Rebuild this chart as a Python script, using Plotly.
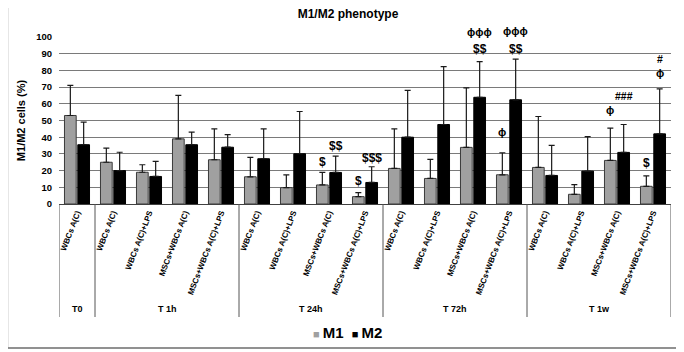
import plotly.graph_objects as go

# ---- data ----
groups = ["T0", "T 1h", "T 24h", "T 72h", "T 1w"]
group_sizes = [1, 4, 4, 4, 4]
conditions = ["WBCs A(C)",
              "WBCs A(C)", "WBCs A(C)+LPS", "MSCs+WBCs A(C)", "MSCs+WBCs A(C)+LPS",
              "WBCs A(C)", "WBCs A(C)+LPS", "MSCs+WBCs A(C)", "MSCs+WBCs A(C)+LPS",
              "WBCs A(C)", "WBCs A(C)+LPS", "MSCs+WBCs A(C)", "MSCs+WBCs A(C)+LPS",
              "WBCs A(C)", "WBCs A(C)+LPS", "MSCs+WBCs A(C)", "MSCs+WBCs A(C)+LPS"]
series_names = ["M1", "M2"]
series_colors = ["#a0a0a0", "#000000"]
m1 = [53, 25, 19, 39, 26.5, 16.3, 9.8, 11.4, 4.4, 21.3, 15.3, 33.9, 17.5, 21.9, 5.8, 26.1, 10.6]
m1_err = [18, 8.5, 4.5, 26, 18.5, 11.6, 7.7, 7.5, 2.4, 23.7, 11.4, 35.6, 13.2, 30.5, 5.8, 19.3, 6.3]
m2 = [35.5, 20, 16.5, 35.5, 34, 27.1, 30.1, 18.9, 12.9, 40, 47.6, 63.9, 62.4, 17.1, 19.7, 30.9, 42]
m2_err = [13.5, 11, 9, 7.5, 7.5, 17.9, 25.3, 9.8, 9.4, 28, 34.7, 21.4, 24.3, 18, 20.7, 16.7, 26.9]

# significance marks: (category index, series, text, y value)
sig_idx = [7, 7, 8, 8, 11, 11, 12, 12, 12, 15, 15, 16, 16, 16]
sig_series = ["M1", "M2", "M1", "M2", "M2", "M2", "M1", "M2", "M2", "M1", "M2", "M1", "M2", "M2"]
sig_text = ["$", "$$", "$", "$$$", "$$", "ϕϕϕ", "ϕ", "$$", "ϕϕϕ", "ϕ", "###", "$", "ϕ", "#"]
sig_y = [25.3, 34.9, 13.9, 27.3, 93, 103.2, 43, 93, 103.6, 56, 64.9, 24.3, 78.5, 87]

yticks = list(range(0, 101, 10))
Y_MIN, Y_MAX = 0, 100

# ---- layout constants ----
OFF_PAGE = 8                      # default body margin of the html page
W, H = 684 - OFF_PAGE, 352 - OFF_PAGE
ML, MR, MT, MB = 54 - OFF_PAGE, 13, 37 - OFF_PAGE, 148
PW, PH = W - ML - MR, H - MT - MB
FONT = "Liberation Sans"
SIG_SIZE = {"$": 12, "ϕ": 11, "#": 10.5}

x = list(range(len(conditions)))

fig = go.Figure()
for name, col, vals, errs in zip(series_names, series_colors, [m1, m2], [m1_err, m2_err]):
    fig.add_trace(go.Bar(
        x=x, y=vals, name=name,
        marker=dict(color=col, line=dict(color="#3a3a3a" if col != "#000000" else "#000", width=1)),
        error_y=dict(type="data", symmetric=False, array=errs, arrayminus=[0] * len(vals),
                     color="#1a1a1a", thickness=1.2, width=3),
        cliponaxis=False,
    ))

OFF = 0.19
annotations = []
for i, s, t, yv in zip(sig_idx, sig_series, sig_text, sig_y):
    annotations.append(dict(
        x=i + (-OFF if s == "M1" else OFF), y=(yv - Y_MIN) / (Y_MAX - Y_MIN),
        xref="x", yref="paper",
        text="<b>%s</b>" % t, showarrow=False,
        font=dict(family=FONT, size=SIG_SIZE[t[0]], color="#000"),
        yanchor="middle", xanchor="center"))

# helpers: reference-image pixel -> paper coordinate
def py(pix):
    return (H - MB - (pix - OFF_PAGE)) / PH

def px(pix):
    return ((pix - OFF_PAGE) - ML) / PW

shapes = []
start = 0
bounds = [-0.5]
for g, n in zip(groups, group_sizes):
    center = start + (n - 1) / 2
    annotations.append(dict(
        x=center, y=py(309), xref="x", yref="paper", text="<b>%s</b>" % g,
        showarrow=False, font=dict(family=FONT, size=9, color="#000"),
        yanchor="middle"))
    start += n
    bounds.append(start - 0.5)
for b in bounds:
    shapes.append(dict(type="line", xref="x", yref="paper", x0=b, x1=b,
                       y0=0, y1=py(317), line=dict(color="#555", width=1)))

# legend (drawn as text so it stays compact like the original)
legend_text = "&nbsp;&nbsp;".join(
    '<span style="color:%s;font-size:11px">■</span>&#8201;<b>%s</b>' % (c, n)
    for n, c in zip(series_names, series_colors))
annotations.append(dict(x=px(345), y=py(332), xref="paper", yref="paper",
                        text=legend_text, showarrow=False, xanchor="center",
                        yanchor="middle", font=dict(family=FONT, size=15, color="#000")))

# outer border
shapes.append(dict(type="rect", xref="paper", yref="paper",
                   x0=px(2), x1=px(681), y0=py(348), y1=py(2),
                   line=dict(color="#6e6e6e", width=1.5),
                   fillcolor="rgba(0,0,0,0)", layer="below"))

fig.update_layout(
    width=W, height=H,
    margin=dict(l=ML, r=MR, t=MT, b=MB, pad=0),
    paper_bgcolor="white", plot_bgcolor="white",
    barmode="group", bargap=0.26, bargroupgap=0.12,
    title=dict(text="<b>M1/M2 phenotype</b>", x=(348 - OFF_PAGE) / W, xref="container",
               y=1 - (14 - OFF_PAGE) / H, yref="container", xanchor="center", yanchor="middle",
               font=dict(family=FONT, size=12, color="#000")),
    font=dict(family=FONT, color="#000"),
    showlegend=False,
    xaxis=dict(range=[-0.5, len(conditions) - 0.5], tickmode="array", tickvals=x,
               ticktext=["<b>%s</b>" % c for c in conditions], tickangle=-69,
               tickfont=dict(family=FONT, size=8, color="#000"), ticks="",
               showgrid=False, showline=True, linecolor="#404040", linewidth=1,
               zeroline=False),
    yaxis=dict(range=[Y_MIN, Y_MAX], tickmode="array", tickvals=yticks,
               ticktext=["<b>%d</b>" % v for v in yticks],
               tickfont=dict(family=FONT, size=9.5, color="#000"),
               showgrid=True, gridcolor="#7a7a7a", gridwidth=1, zeroline=False,
               showline=False, ticks="", ticklabelstandoff=6,
               title=dict(text="<b>M1/M2 cells (%)</b>", standoff=8,
                          font=dict(family=FONT, size=11, color="#000"))),
    annotations=annotations, shapes=shapes,
)

fig.write_html("out.html")
